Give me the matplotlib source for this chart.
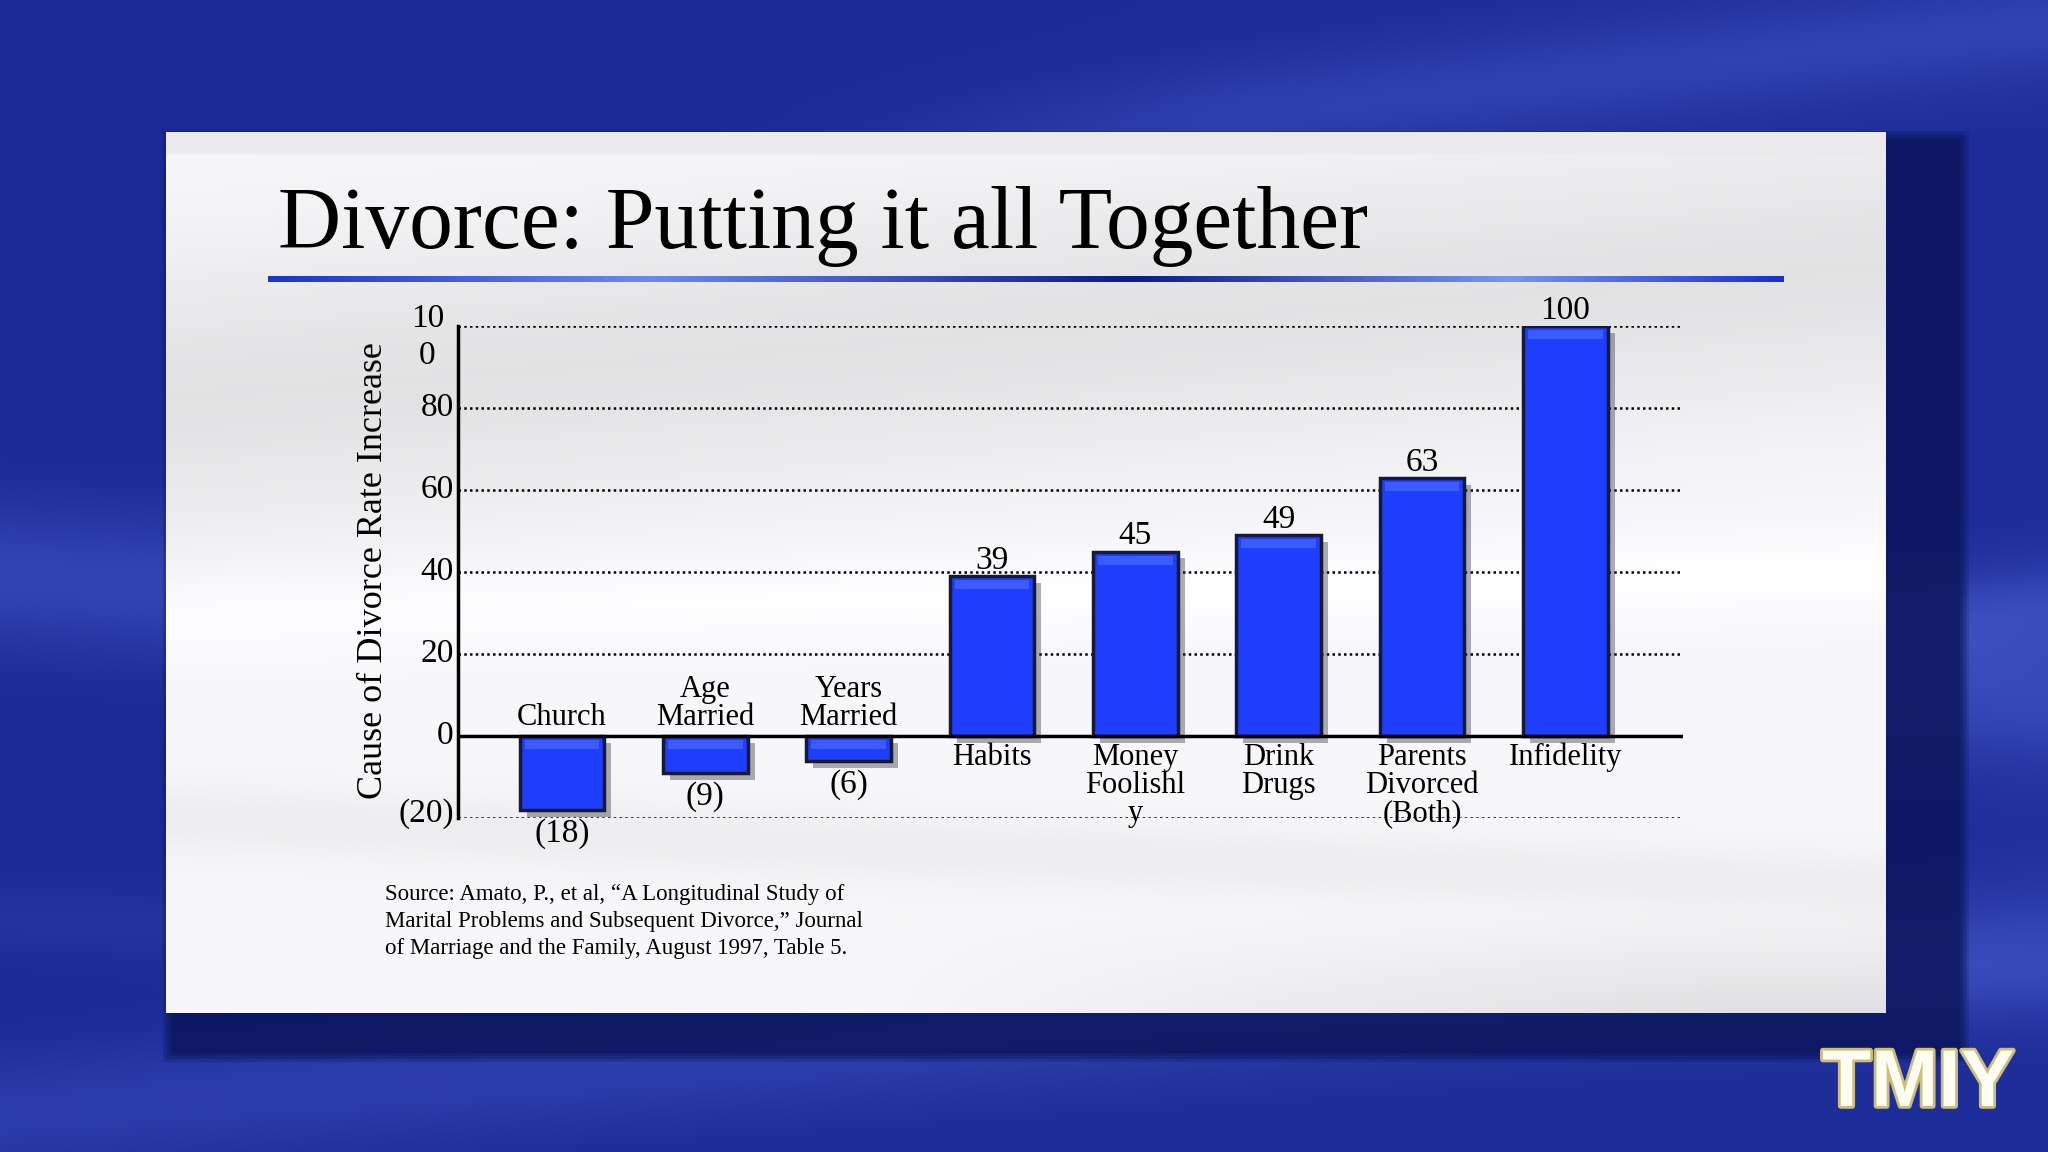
import numpy as np
import matplotlib
matplotlib.use('Agg')
import matplotlib.pyplot as plt
import matplotlib.patheffects as pe
from matplotlib.patches import Rectangle
from matplotlib.colors import LinearSegmentedColormap

#--------------- Data ---------------------
categories = ['Church', 'Age\nMarried', 'Years\nMarried', 'Habits',
              'Money\nFoolishl\ny', 'Drink\nDrugs', 'Parents\nDivorced\n(Both)', 'Infidelity']
values = [-18, -9, -6, 39, 45, 49, 63, 100]
value_labels = ['(18)', '(9)', '(6)', '39', '45', '49', '63', '100']
yticks = [-20, 0, 20, 40, 60, 80, 100]
ytick_labels = ['(20)', '0', '20', '40', '60', '80', '10\n0']

title = 'Divorce: Putting it all Together'
ylabel = 'Cause of Divorce Rate Increase'
source = ('Source: Amato, P., et al, \u201cA Longitudinal Study of\n'
          'Marital Problems and Subsequent Divorce,\u201d Journal\n'
          'of Marriage and the Family, August 1997, Table 5.')

#--------------- Style ---------------------
plt.rcParams['font.family'] = 'Liberation Serif'
SERIF = 'Liberation Serif'
BAR_BLUE = '#1f3dfc'

fig = plt.figure(figsize=(20.48, 11.52), dpi=100)

# background layer in pixel coordinates
bg = fig.add_axes([0, 0, 1, 1])
bg.axis('off')

def smooth(a, lo, hi):
    return np.clip((a - lo) / (hi - lo), 0, 1)

# blue slide background with soft streaks
yy, xx = np.mgrid[0:1:288j, 0:1:512j]
t = 0.08 * xx
t += 0.40 * np.exp(-((yy - 0.50 - 0.10 * xx) / 0.07) ** 2)
t += 0.30 * np.exp(-((yy - 0.10 + 0.20 * (xx - 0.6)) / 0.05) ** 2) * smooth(xx, 0.35, 0.6)
t += 0.30 * np.exp(-((yy - 0.55 + 0.25 * (xx - 0.9)) / 0.04) ** 2) * smooth(xx, 0.85, 0.95)
t += 0.30 * np.exp(-((yy - 0.97 + 0.15 * xx) / 0.06) ** 2)
t += 0.15 * np.exp(-((yy - 0.80 - 0.05 * xx) / 0.04) ** 2)
t = np.clip(t, 0, 1)[..., None]
dark = np.array([24, 40, 148]) / 255
light = np.array([88, 108, 222]) / 255
bg.imshow(dark * (1 - t) + light * t, extent=(0, 2048, 1152, 0), aspect='auto',
          interpolation='bilinear', zorder=0)

# panel drop shadow
for i, a in enumerate([0.25, 0.3, 0.35, 0.45]):
    g = 9 - 3 * i
    bg.add_patch(Rectangle((172 - g, 140 - g), 1788 + 2 * g, 913 + 2 * g,
                           facecolor='#0b1458', edgecolor='none', alpha=a, zorder=1))

# light panel
py, px = np.mgrid[0:1:200j, 0:1:400j]
s = 0.97 - 0.08 * np.exp(-((py - 0.30 + 0.15 * px) / 0.16) ** 2)
s += 0.03 * np.exp(-((py - 0.55 + 0.05 * px) / 0.05) ** 2)
s -= 0.04 * np.exp(-((py - 0.78 - 0.08 * px) / 0.04) ** 2)
s -= 0.09 * smooth(py, 0.88, 1.0) * smooth(px, 0.4, 0.9)
s[py < 0.025] = 0.92
s = np.clip(s, 0, 1)
panel = np.dstack([s, s, np.clip(s * 1.008, 0, 1)])
bg.imshow(panel, extent=(166, 1886, 1013, 132), aspect='auto',
          interpolation='bilinear', zorder=2)

# title and gradient rule
bg.text(278, 248, title, fontsize=63, family=SERIF, color='black', va='baseline', zorder=5)
rule_cmap = LinearSegmentedColormap.from_list(
    'rule', [(0, '#1c34c8'), (0.25, '#6f88ee'), (0.57, '#0c1a8c'), (0.82, '#7a95f0'), (1, '#1a30d0')])
bg.imshow(np.linspace(0, 1, 400)[None, :], cmap=rule_cmap, extent=(268, 1784, 282, 276),
          aspect='auto', zorder=5)

# y label and source note
bg.text(374, 571, ylabel, rotation=90, ha='center', va='center', fontsize=26,
        family=SERIF, zorder=5)
bg.text(385, 884, source, fontsize=16.5, family=SERIF, va='top', linespacing=1.36, zorder=5)

# logo
bg.text(1918, 1085, 'TMIY', ha='center', va='center', fontsize=58, fontweight='bold',
        family='Liberation Sans', color='#fdfdf2', zorder=5,
        path_effects=[pe.withStroke(linewidth=4, foreground='#cdbd7a')])

bg.set_xlim(0, 2048)
bg.set_ylim(1152, 0)

#--------------- Chart ---------------------
ax = fig.add_axes([458 / 2048, 1 - 818 / 1152, (1683 - 458) / 2048, (818 - 326) / 1152])
ax.set_facecolor('none')
x = np.arange(len(categories))
ax.set_xlim(-0.725, 7.82)
ax.set_ylim(-20, 100)

for v in yticks:
    if v != 0:
        ax.axhline(v, color='black', linestyle=(0, (1, 1.3)), linewidth=1.8, zorder=1)
ax.axhline(0, color='black', linewidth=2.5, zorder=4)

tops = np.maximum(values, 0)
ax.bar(x, values, width=0.59, color=BAR_BLUE, edgecolor='#161a36', linewidth=2.5, zorder=3,
       path_effects=[pe.SimplePatchShadow(offset=(5, -5), shadow_rgbFace='#333344', alpha=0.4),
                     pe.Normal()])
# soft bevel highlight just under the top edge of every bar
ax.bar(x, 2.2, bottom=tops - 3.2, width=0.52, color='#3b5bff', edgecolor='none', zorder=3.5)

for sp in ['top', 'right', 'bottom']:
    ax.spines[sp].set_visible(False)
ax.spines['left'].set_linewidth(2.5)
ax.spines['left'].set_zorder(5)

ax.set_xticks([])
ax.set_yticks(yticks)
ax.set_yticklabels([])
ax.tick_params(axis='y', length=0)
for v, lbl in zip(yticks, ytick_labels):
    if v == 100:
        ax.annotate(lbl, (0, v), xycoords=ax.get_yaxis_transform(), xytext=(-22, -8),
                    textcoords='offset points', ha='center', va='center', fontsize=24,
                    multialignment='center', linespacing=1.3, annotation_clip=False)
    else:
        ax.annotate(lbl, (0, v), xycoords=ax.get_yaxis_transform(),
                    xytext=(-3, 3 if v == -20 else 0), textcoords='offset points',
                    ha='right', va='center', fontsize=24, annotation_clip=False)

for xi, v, cat, vl in zip(x, values, categories, value_labels):
    if v < 0:
        ax.annotate(cat, (xi, 0), xytext=(0, 3), textcoords='offset points', ha='center',
                    va='bottom', fontsize=22, linespacing=0.96, annotation_clip=False)
        ax.annotate(vl, (xi, v), xytext=(0, -6), textcoords='offset points', ha='center',
                    va='top', fontsize=24, annotation_clip=False)
    else:
        ax.annotate(cat, (xi, 0), xytext=(0, -5), textcoords='offset points', ha='center',
                    va='top', fontsize=22, linespacing=0.96, annotation_clip=False)
        ax.annotate(vl, (xi, v), xytext=(0, 0), textcoords='offset points', ha='center',
                    va='bottom', fontsize=24, annotation_clip=False)

fig.savefig('out.png', dpi=100)
